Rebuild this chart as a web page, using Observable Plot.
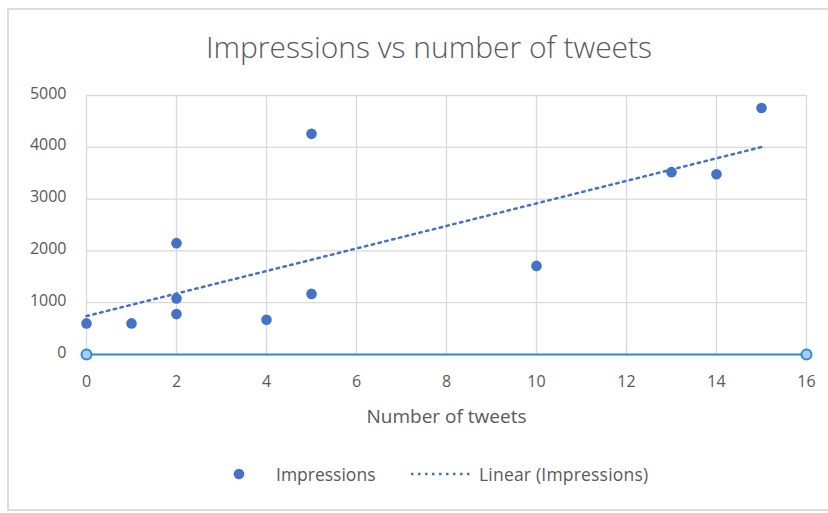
<!DOCTYPE html>
<html>
<head>
<meta charset="utf-8">
<script src="https://cdn.jsdelivr.net/npm/d3@7"></script>
<script src="https://cdn.jsdelivr.net/npm/@observablehq/plot@0.6"></script>
<style>
  html, body { margin: 0; padding: 0; background: #fff; overflow: hidden; }
  #root { width: 828px; height: 513px; position: relative; overflow: hidden; font-family: "Open Sans", "Noto Sans", sans-serif; }
  #border { position: absolute; left: 7px; top: 8px; width: 900px; height: 503px; border: 2px solid #dcdcdc; box-sizing: border-box; }
  #title { position: absolute; left: 0; width: 858px; top: 26px; text-align: center; font-size: 30px; font-weight: 300; color: #595959; white-space: nowrap; }
  #chart { position: absolute; left: 0; top: 60px; }
  #legend { position: absolute; top: 461px; left: 0; width: 828px; height: 26px; font-size: 17.5px; color: #595959; }
  #legend .item { position: absolute; top: 0; display: flex; align-items: center; height: 26px; white-space: nowrap; }
</style>
</head>
<body>
<div id="root">
<div id="border"></div>
<div id="title">Impressions vs number of tweets</div>
<div id="chart"></div>
<div id="legend">
  <div class="item" style="left:232px"><svg width="14" height="14"><circle cx="7" cy="7" r="5.3" fill="#4472c4"></circle></svg><span style="margin-left:30px">Impressions</span></div>
  <div class="item" style="left:410px"><svg width="64" height="10"><line x1="1" y1="5" x2="63" y2="5" stroke="#4472c4" stroke-width="2.5" stroke-dasharray="2.5,4.5"></line></svg><span style="margin-left:5px; letter-spacing:0.2px">Linear (Impressions)</span></div>
</div>
</div>
<script>
const tweets = [0, 1, 2, 2, 2, 4, 5, 5, 10, 13, 14, 15];
const impressions = [600, 600, 2150, 1080, 780, 670, 4260, 1170, 1710, 3520, 3480, 4760];
const xTicks = [0, 2, 4, 6, 8, 10, 12, 14, 16];
const yTicks = [0, 1000, 2000, 3000, 4000, 5000];
const axisEnds = [0, 16];

const data = tweets.map((t, i) => ({tweets: t, impressions: impressions[i]}));

const chart = Plot.plot({
  width: 828,
  height: 380,
  marginLeft: 86,
  marginRight: 22,
  marginTop: 35,
  marginBottom: 86,
  style: {fontFamily: "'Open Sans', 'Noto Sans', sans-serif", fontSize: "16px", color: "#595959", background: "transparent", overflow: "visible"},
  x: {domain: [0, 16]},
  y: {domain: [0, 5000]},
  marks: [
    Plot.gridX(xTicks, {stroke: "#d9d9d9", strokeOpacity: 1, strokeWidth: 1.3}),
    Plot.gridY(yTicks, {stroke: "#d9d9d9", strokeOpacity: 1, strokeWidth: 1.3}),
    Plot.axisX(xTicks, {tickSize: 0, tickPadding: 21, tickFormat: d => String(d), fill: "#595959", fontSize: 16,
      label: "Number of tweets", labelAnchor: "center", labelArrow: "none", labelOffset: 68}),
    Plot.axisY(yTicks, {tickSize: 0, tickPadding: 20, dy: -2, tickFormat: d => String(d), fill: "#595959", fontSize: 16, label: null}),
    Plot.ruleY([0], {stroke: "#2e8bd8", strokeWidth: 2}),
    Plot.dot(axisEnds, {x: d => d, y: 0, r: 5, fill: "#a9cdf0", stroke: "#2e8bd8", strokeWidth: 2}),
    Plot.linearRegressionY(data, {x: "tweets", y: "impressions", ci: 0, stroke: "#4472c4", strokeWidth: 2.5, strokeDasharray: "2.5,4.5"}),
    Plot.dot(data, {x: "tweets", y: "impressions", r: 5.3, fill: "#4472c4", stroke: "none"})
  ]
});
document.getElementById("chart").appendChild(chart);
chart.querySelectorAll("[aria-label='x-axis label'] text").forEach(t => { t.style.fontSize = "19px"; t.setAttribute("fill", "#595959"); });
</script>
</body>
</html>
